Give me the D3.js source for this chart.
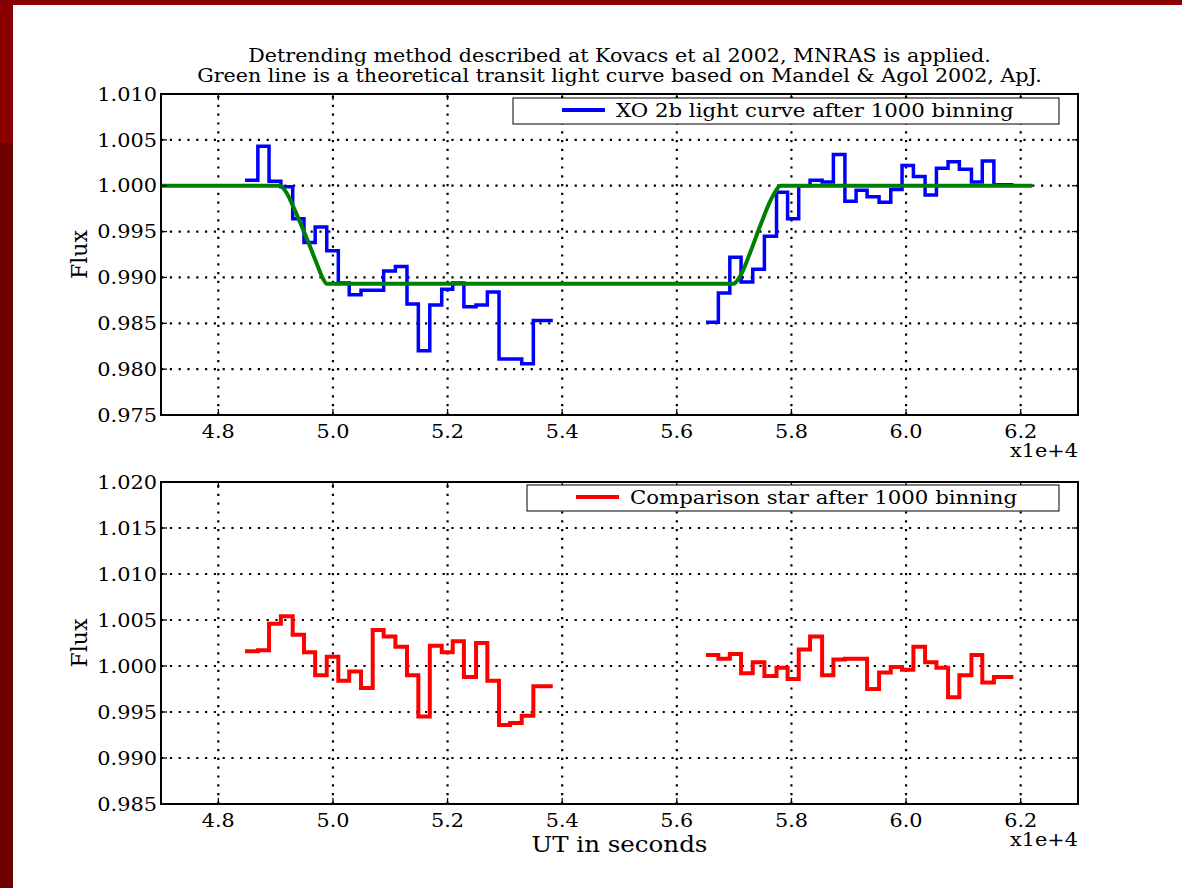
<!DOCTYPE html>
<html>
<head>
<meta charset="utf-8">
<script src="https://cdn.jsdelivr.net/npm/d3@7"></script>
<style>
  html, body { margin: 0; padding: 0; background: #ffffff; }
  svg { display: block; }
  text { font-family: "DejaVu Serif", serif; fill: #000; }
</style>
</head>
<body>
<svg id="chart" width="1182" height="888"></svg>
<script>
// ---------------- DATA ----------------
const titleLines = [
  "Detrending method described at Kovacs et al 2002, MNRAS is applied.",
  "Green line is a theoretical transit light curve based on Mandel & Agol 2002, ApJ."
];
const xTickValues = [48000, 50000, 52000, 54000, 56000, 58000, 60000, 62000];
const xTickLabels = ["4.8", "5.0", "5.2", "5.4", "5.6", "5.8", "6.0", "6.2"];
const topYTicks = [0.975, 0.980, 0.985, 0.990, 0.995, 1.000, 1.005, 1.010];
const bottomYTicks = [0.985, 0.990, 0.995, 1.000, 1.005, 1.010, 1.015, 1.020];

// bin start times (s); the last entry closes the final bin
const timeSeg1 = [48466, 48690, 48885, 49092, 49298, 49495, 49690, 49892, 50094, 50284,
  50490, 50694, 50885, 51090, 51292, 51490, 51690, 51898, 52090, 52285,
  52497, 52694, 52898, 53090, 53294, 53497, 53836];
const timeSeg2 = [56510, 56725, 56925, 57121, 57325, 57528, 57740, 57933, 58127, 58325,
  58535, 58732, 58933, 59128, 59320, 59529, 59733, 59930, 60128, 60332,
  60530, 60733, 60930, 61141, 61330, 61532, 61873];

// XO-2b binned flux
const xoFluxSeg1 = [1.0006, 1.0043, 1.0005, 0.9999, 0.9964, 0.9938, 0.9955, 0.9929, 0.9894, 0.9881,
  0.9886, 0.9886, 0.9907, 0.9912, 0.9871, 0.9820, 0.9870, 0.9887, 0.9894, 0.9868,
  0.9870, 0.9884, 0.9811, 0.9811, 0.9806, 0.9853, 0.9853];
const xoFluxSeg2 = [0.9851, 0.9883, 0.9922, 0.9895, 0.9909, 0.9945, 0.9993, 0.9964, 1.0000, 1.0006,
  1.0004, 1.0034, 0.9983, 0.9995, 0.9988, 0.9982, 0.9996, 1.0022, 1.0010, 0.9990,
  1.0019, 1.0026, 1.0018, 1.0004, 1.0027, 1.0001, 1.0001];

// Comparison star binned flux
const compFluxSeg1 = [1.0016, 1.0017, 1.0046, 1.0054, 1.0034, 1.0015, 0.9990, 1.0010, 0.9984, 0.9994,
  0.9976, 1.0039, 1.0032, 1.0021, 0.9990, 0.9945, 1.0022, 1.0015, 1.0027, 0.9988,
  1.0025, 0.9984, 0.9936, 0.9938, 0.9946, 0.9978, 0.9978];
const compFluxSeg2 = [1.0012, 1.0008, 1.0013, 0.9992, 1.0004, 0.9989, 0.9998, 0.9986, 1.0018, 1.0032,
  0.9990, 1.0007, 1.0008, 1.0008, 0.9975, 0.9993, 0.9999, 0.9996, 1.0021, 1.0004,
  0.9998, 0.9966, 0.9990, 1.0012, 0.9982, 0.9988, 0.9988];

// theoretical transit model
const modelTime = [47000, 49077, 49193, 49309, 49495, 49693, 49832, 49891,
  56987, 57104, 57279, 57453, 57628, 57744, 57802, 62200];
const modelFlux = [1.0, 1.0, 0.9992, 0.9977, 0.9950, 0.9919, 0.9898, 0.9893,
  0.9893, 0.9901, 0.9927, 0.9956, 0.9983, 0.9996, 1.0, 1.0];

const legendTop = "XO 2b light curve after 1000 binning";
const legendBottom = "Comparison star after 1000 binning";
const yLabel = "Flux";
const xLabel = "UT in seconds";
const offsetLabel = "x1e+4";

// ---------------- DRAW ----------------
const SX = 1.125; // glyphs in the reference are rendered wider than tall
const svg = d3.select("#chart");
svg.append("rect").attr("width", 1182).attr("height", 888).attr("fill", "#ffffff");
// dark red frame of the slide
svg.append("rect").attr("x", 0).attr("y", 0).attr("width", 1182).attr("height", 5).attr("fill", "#8a0000");
svg.append("rect").attr("x", 0).attr("y", 0).attr("width", 13).attr("height", 143).attr("fill", "#8a0000");
svg.append("rect").attr("x", 0).attr("y", 143).attr("width", 13).attr("height", 745).attr("fill", "#6e0000");

function label(parent, px, py, str, size, anchor, sx) {
  return parent.append("text")
    .attr("transform", `translate(${px},${py}) scale(${sx || SX},1)`)
    .attr("text-anchor", anchor || "start").attr("font-size", size).text(str);
}

const left = 161, right = 1078;
const x = d3.scaleLinear().domain([47000, 63000]).range([left, right]);

titleLines.forEach((t, i) => label(svg, (left + right) / 2, 62 + i * 19.5, t, 18.5, "middle", 1.115));

function panel(cfg) {
  const y = d3.scaleLinear().domain(cfg.domain).range([cfg.bottom, cfg.top]);
  const g = svg.append("g");
  // grid
  const grid = g.append("g").attr("stroke", "#000").attr("stroke-width", 2.2)
    .attr("stroke-dasharray", "2.2,6.6").attr("fill", "none");
  xTickValues.forEach(v => {
    grid.append("line").attr("x1", x(v)).attr("x2", x(v)).attr("y1", cfg.bottom).attr("y2", cfg.top);
  });
  cfg.yTicks.forEach(v => {
    grid.append("line").attr("x1", left).attr("x2", right).attr("y1", y(v)).attr("y2", y(v));
  });

  const clip = "clip" + cfg.id;
  svg.append("clipPath").attr("id", clip).append("rect")
    .attr("x", left).attr("y", cfg.top).attr("width", right - left).attr("height", cfg.bottom - cfg.top);

  const line = d3.line().x(d => x(d[0])).y(d => y(d[1])).curve(d3.curveStepAfter);
  const dg = g.append("g").attr("clip-path", `url(#${clip})`);
  cfg.series.forEach(s => {
    dg.append("path").datum(d3.zip(s.t, s.f))
      .attr("d", line).attr("fill", "none").attr("stroke", cfg.color)
      .attr("stroke-width", cfg.width).attr("stroke-linejoin", "miter");
  });
  if (cfg.model) {
    const ml = d3.line().x(d => x(d[0])).y(d => y(d[1])).curve(d3.curveMonotoneX);
    dg.append("path").datum(d3.zip(modelTime, modelFlux))
      .attr("d", ml).attr("fill", "none").attr("stroke", "#008000")
      .attr("stroke-width", 4).attr("stroke-linejoin", "round");
  }

  // axes with inward ticks on all sides
  const tl = 6;
  const ax = g.append("g").attr("stroke", "#000").attr("stroke-width", 1.3);
  xTickValues.forEach(v => {
    ax.append("line").attr("x1", x(v)).attr("x2", x(v)).attr("y1", cfg.bottom).attr("y2", cfg.bottom - tl);
    ax.append("line").attr("x1", x(v)).attr("x2", x(v)).attr("y1", cfg.top).attr("y2", cfg.top + tl);
  });
  cfg.yTicks.forEach(v => {
    ax.append("line").attr("x1", left).attr("x2", left + tl).attr("y1", y(v)).attr("y2", y(v));
    ax.append("line").attr("x1", right).attr("x2", right - tl).attr("y1", y(v)).attr("y2", y(v));
  });
  g.append("rect").attr("x", left).attr("y", cfg.top).attr("width", right - left)
    .attr("height", cfg.bottom - cfg.top).attr("fill", "none").attr("stroke", "#000").attr("stroke-width", 2);

  // tick labels
  xTickValues.forEach((v, i) => label(g, x(v), cfg.bottom + 23, xTickLabels[i], 18.5, "middle"));
  cfg.yTicks.forEach(v => label(g, left - 4, y(v) + 6.7, d3.format(".3f")(v), 18.5, "end", 1.13));
  label(g, right, cfg.bottom + 42, offsetLabel, 18.5, "end");
  g.append("text").attr("transform", `translate(87,${(cfg.top + cfg.bottom) / 2}) rotate(-90)`)
    .attr("text-anchor", "middle").attr("font-size", 22).text(yLabel);

  // legend
  const L = cfg.legend;
  g.append("rect").attr("x", L.x0).attr("y", L.y0).attr("width", 1059 - L.x0).attr("height", 26)
    .attr("fill", "#fff").attr("stroke", "#000").attr("stroke-width", 1);
  g.append("line").attr("x1", L.x0 + 49).attr("x2", L.x0 + 92).attr("y1", L.y0 + 12).attr("y2", L.y0 + 12)
    .attr("stroke", cfg.color).attr("stroke-width", 4);
  label(g, L.x0 + 103, L.y0 + 18.5, L.text, 18.5, "start", 1.15);
  return y;
}

panel({
  id: "top", top: 94, bottom: 415, domain: [0.975, 1.010], yTicks: topYTicks,
  color: "#0000ff", width: 3.5, model: true,
  series: [{ t: timeSeg1, f: xoFluxSeg1 }, { t: timeSeg2, f: xoFluxSeg2 }],
  legend: { x0: 513, y0: 98, text: legendTop }
});
panel({
  id: "bot", top: 482, bottom: 804, domain: [0.985, 1.020], yTicks: bottomYTicks,
  color: "#ff0000", width: 4, model: false,
  series: [{ t: timeSeg1, f: compFluxSeg1 }, { t: timeSeg2, f: compFluxSeg2 }],
  legend: { x0: 527, y0: 485, text: legendBottom }
});

label(svg, (left + right) / 2, 852, xLabel, 22, "middle", 1.115);
</script>
</body>
</html>
